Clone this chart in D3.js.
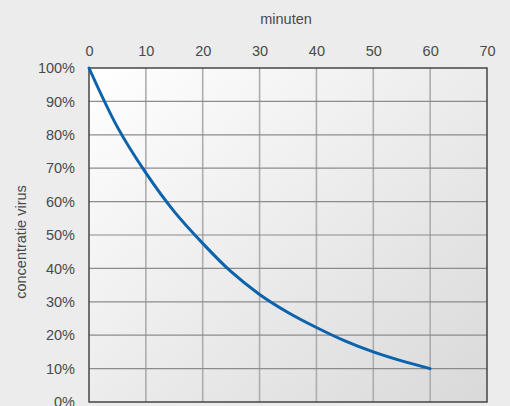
<!DOCTYPE html>
<html><head><meta charset="utf-8">
<script src="https://cdn.jsdelivr.net/npm/d3@7"></script>
<style>
html,body{margin:0;padding:0;background:#ececec;overflow:hidden}
svg{display:block}
text{font-family:"Liberation Sans",Arial,sans-serif;fill:#4a4a4a}
</style></head><body>
<svg id="c" width="510" height="406"></svg>
<script>
const minutes = [0, 5, 10, 15, 20, 25, 30, 35, 40, 45, 50, 55, 60];
const concentration = [100, 82.3, 68.6, 57, 47.5, 39, 32.2, 26.8, 22.3, 18.3, 15, 12.3, 10];
const xTicks = [0, 10, 20, 30, 40, 50, 60, 70];
const yTicks = [0, 10, 20, 30, 40, 50, 60, 70, 80, 90, 100];
const xTitle = "minuten";
const yTitle = "concentratie virus";

const svg = d3.select("#c");
const m = {l: 89, r: 487, t: 68, b: 402};
const x = d3.scaleLinear().domain([0, 70]).range([m.l, m.r]);
const y = d3.scaleLinear().domain([0, 100]).range([m.b, m.t]);

const defs = svg.append("defs");
const g = defs.append("linearGradient").attr("id","bg").attr("x1","0").attr("y1","0").attr("x2","1").attr("y2","1");
g.append("stop").attr("offset","0").attr("stop-color","#ffffff");
g.append("stop").attr("offset","1").attr("stop-color","#d9d9d9");

svg.append("rect").attr("x", m.l).attr("y", m.t).attr("width", m.r - m.l).attr("height", m.b - m.t).attr("fill","url(#bg)");

// grid
svg.append("g").selectAll("line").data(xTicks.slice(1, -1)).join("line")
  .attr("x1", d => x(d)).attr("x2", d => x(d)).attr("y1", m.t).attr("y2", m.b)
  .attr("stroke", "#adadad").attr("stroke-width", 1.6);
svg.append("g").selectAll("line").data(yTicks.slice(1, -1)).join("line")
  .attr("x1", m.l).attr("x2", m.r).attr("y1", d => y(d)).attr("y2", d => y(d))
  .attr("stroke", "#8c8c8c").attr("stroke-width", 1.2);

// axes
const xa = svg.append("g").attr("transform", `translate(0,${m.t - 15})`)
  .call(d3.axisTop(x).tickValues(xTicks).tickSize(0).tickPadding(0));
xa.select(".domain").remove();
xa.selectAll("text").attr("font-size", "14.5px").attr("dy", "0.2em").style("font-family", '"Liberation Sans",Arial,sans-serif').attr("fill","#4a4a4a");

const ya = svg.append("g").attr("transform", `translate(${m.l - 14},0)`)
  .call(d3.axisLeft(y).tickValues(yTicks).tickSize(0).tickPadding(0).tickFormat(d => d + "%"));
ya.select(".domain").remove();
ya.selectAll("text").attr("font-size", "14.5px").style("font-family", '"Liberation Sans",Arial,sans-serif').attr("fill","#4a4a4a");

// frame
svg.append("rect").attr("x", m.l).attr("y", m.t).attr("width", m.r - m.l).attr("height", m.b - m.t)
  .attr("fill","none").attr("stroke","#3a3a3a").attr("stroke-width",1.4);

// curve
const line = d3.line().x((d, i) => x(minutes[i])).y(d => y(d)).curve(d3.curveCatmullRom.alpha(0.5));
svg.append("path").datum(concentration).attr("d", line)
  .attr("fill","none").attr("stroke","#0b62ad").attr("stroke-width",3).attr("stroke-linecap","round");

// titles
svg.append("text").attr("x", 286).attr("y", 24).attr("text-anchor","middle").attr("font-size","14.5px").text(xTitle);
svg.append("text").attr("transform","translate(26,242) rotate(-90)").attr("text-anchor","middle").attr("font-size","14.5px").text(yTitle);
</script></body></html>
